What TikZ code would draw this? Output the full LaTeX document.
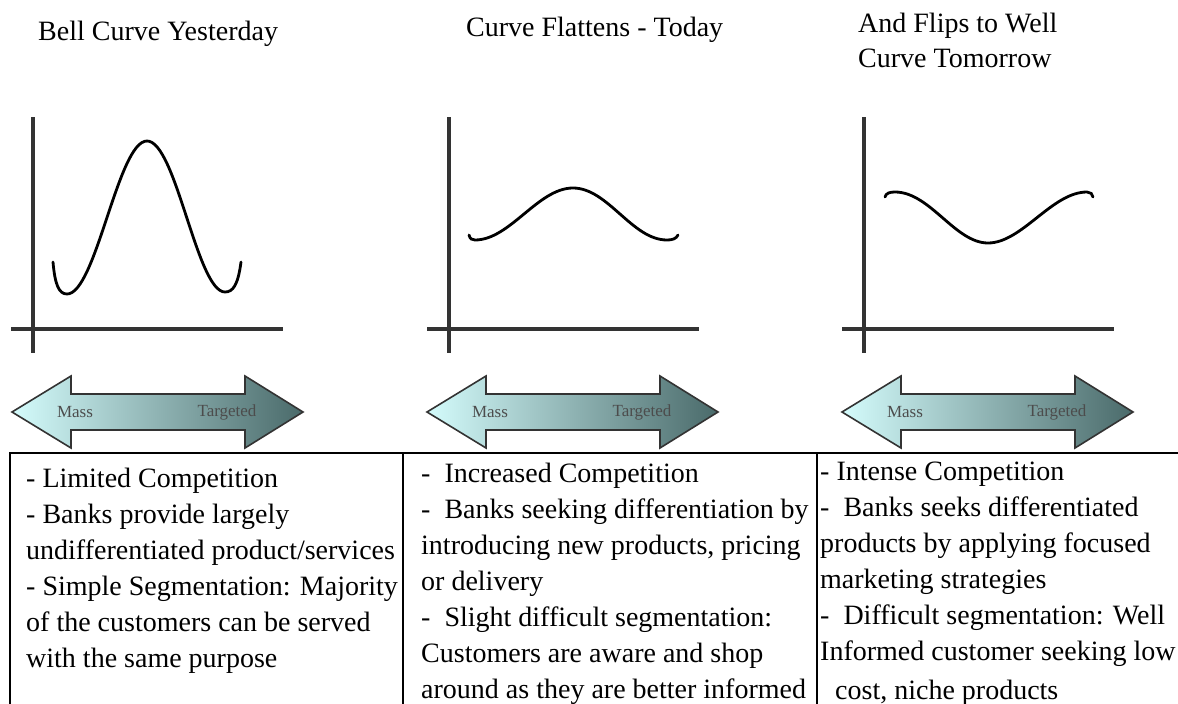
\documentclass[tikz,border=0pt]{standalone}
\usepackage{fontspec}
\setmainfont{Liberation Serif}
\usetikzlibrary{positioning}
\definecolor{massblue}{RGB}{212,252,252}
\definecolor{targetgray}{RGB}{74,106,106}
\tikzset{
  axisline/.style={line width=3.2pt,color=black!80},
  curveline/.style={line width=2.8pt,line cap=round},
  heading/.style={anchor=north west,inner sep=0pt,align=left,font=\fontsize{28}{35}\selectfont},
  celltext/.style={anchor=north west,inner sep=0pt,align=left,font=\fontsize{28}{36}\selectfont},
  arrowtag/.style={inner sep=0pt,text=black!70,font=\fontsize{17}{17}\selectfont},
  gridline/.style={line width=2pt}
}
\begin{document}
\begin{tikzpicture}[x=1pt,y=-1pt]
\useasboundingbox (0,0) rectangle (1178,704);
% headings
\node[heading] (yesterday) at (38,21) {Bell Curve Yesterday};
\node[heading] (today) at (466,17) {Curve Flattens - Today};
\node[heading] (tomorrow) at (858,13) {And Flips to Well\\Curve Tomorrow};
% axes
\draw[axisline] (33,117) -- (33,353);
\draw[axisline] (11,329) -- (283,329);
\draw[axisline] (449,117) -- (449,353);
\draw[axisline] (427,329) -- (699,329);
\draw[axisline] (864,117) -- (864,353);
\draw[axisline] (842,329) -- (1114,329);
% curves
\draw[curveline] (53,262) .. controls (55,285) and (59,294) .. (67,294) .. controls (96,294) and (118,141) .. (147,141) .. controls (176,141) and (197,292) .. (225,292) .. controls (233,292) and (238,285) .. (241,262);
\draw[curveline] (469,235) .. controls (470,239) and (472,240) .. (475,240) .. controls (510,240) and (538,188) .. (573,188) .. controls (608,188) and (632,240) .. (667,240) .. controls (672,240) and (676,239) .. (678,235);
\draw[curveline] (885,197) .. controls (886,193) and (890,192) .. (895,192) .. controls (930,192) and (955,243) .. (988,243) .. controls (1022,243) and (1052,192) .. (1087,192) .. controls (1090,192) and (1093,194) .. (1093,197);
% mass -> targeted arrows
\foreach \i/\x in {1/12,2/427,3/842}{
  \shadedraw[left color=massblue,right color=targetgray,draw=black!80,line width=1.6pt,line join=miter,shift={(\x,0)}]
    (0,412) -- (59,376) -- (59,394) -- (233,394) -- (233,376) -- (291,412) -- (233,448) -- (233,430) -- (59,430) -- (59,448) -- cycle;
  \node[arrowtag] (mass\i) at (\x+63,412) {Mass};
  \node[arrowtag] (targeted\i) at (\x+215,412) {Targeted};
}
% table
\draw[gridline] (10,704) -- (10,453) -- (1178,453);
\draw[gridline] (403,453) -- (403,704);
\draw[gridline] (817,453) -- (817,704);
\node[celltext] (limited) at (26,468) {- Limited Competition\\- Banks provide largely\\undifferentiated product/services\\- Simple Segmentation: Majority\\of the customers can be served\\with the same purpose};
\node[celltext] (increased) at (421,463) {-\ \ Increased Competition\\-\ \ Banks seeking differentiation by\\introducing new products, pricing\\or delivery\\-\ \ Slight difficult segmentation:\\Customers are aware and shop\\around as they are better informed};
\node[celltext] (intense) at (820,462) {- Intense Competition\\-\ \ Banks seeks differentiated\\products by applying focused\\marketing strategies\\-\ \ Difficult segmentation: Well\\Informed customer seeking low\\[3pt]\hspace*{15pt}cost, niche products};
\end{tikzpicture}
\end{document}
